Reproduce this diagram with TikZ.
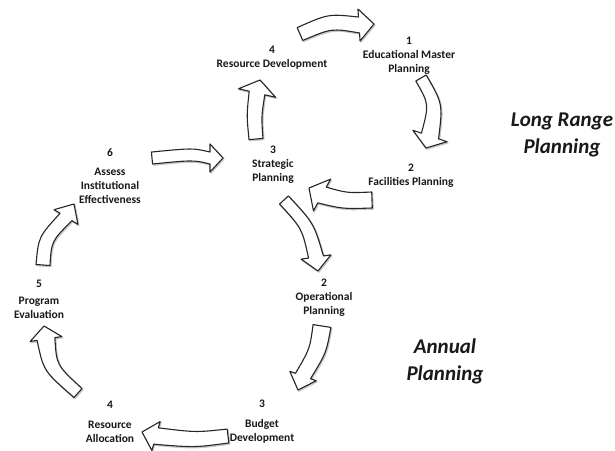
\documentclass[tikz,border=0pt]{standalone}
\usepackage{fontspec}
\setmainfont{Carlito}
\usetikzlibrary{calc}
\tikzset{
 lbl/.style={align=center, font=\bfseries\fontsize{11.5}{14}\selectfont, inner sep=0pt, text=black!90},
 big/.style={align=center, font=\bfseries\itshape\fontsize{21}{27}\selectfont, inner sep=0pt, text=black!90},
 barrowstyle/.style={draw=black!85, fill=white, line width=1.1pt, line join=round},
 barrowshadow/.style={draw=black!22, line width=1.6pt, line join=round, transform canvas={xshift=0.8pt,yshift=-1pt}},
}
% #1 name, #2 tail, #3 control, #4 head base, #5 tip, #6 tail half width, #7 shaft end half width, #8 head half width
\newcommand\barrow[8]{%
  \coordinate (#1T) at #2; \coordinate (#1C) at #3; \coordinate (#1H) at #4; \coordinate (#1P) at #5;
  \coordinate (#1TL) at ($(#1T)!#6pt!90:(#1C)$);
  \coordinate (#1TR) at ($(#1T)!#6pt!-90:(#1C)$);
  \coordinate (#1HL) at ($(#1H)!#7pt!90:(#1P)$);
  \coordinate (#1HR) at ($(#1H)!#7pt!-90:(#1P)$);
  \coordinate (#1WL) at ($(#1H)!#8pt!90:(#1P)$);
  \coordinate (#1WR) at ($(#1H)!#8pt!-90:(#1P)$);
  \coordinate (#1CL) at ($(#1C)+0.5*(#1TL)-0.5*(#1T)+0.5*(#1HL)-0.5*(#1H)$);
  \coordinate (#1CR) at ($(#1C)+0.5*(#1TR)-0.5*(#1T)+0.5*(#1HR)-0.5*(#1H)$);
  \draw[barrowshadow] (#1TL) .. controls (#1CL) .. (#1HL) -- (#1WL) -- (#1P) -- (#1WR) -- (#1HR) .. controls (#1CR) .. (#1TR) -- cycle;
  \draw[barrowstyle] (#1TL) .. controls (#1CL) .. (#1HL) -- (#1WL) -- (#1P) -- (#1WR) -- (#1HR) .. controls (#1CR) .. (#1TR) -- cycle;
}
\begin{document}
\begin{tikzpicture}[x=1pt,y=-1pt]
\useasboundingbox[fill=white] (0,0) rectangle (615,450);

% labels
\node[lbl] (rd)  at (272,57.5) {4\\Resource Development};
\node[lbl] (emp) at (409,56)   {1\\Educational Master\\Planning};
\node[lbl] (fp)  at (411,176)  {2\\Facilities Planning};
\node[lbl] (sp)  at (273,164.5){3\\Strategic\\Planning};
\node[lbl] (aie) at (110,176)  {6\\[5pt]Assess\\Institutional\\Effectiveness};
\node[lbl] (pe)  at (39,299.5) {5\\[3pt]Program\\Evaluation};
\node[lbl] (op)  at (324,297.5){2\\Operational\\Planning};
\node[lbl] (bd)  at (262,421.5){3\\[6pt]Budget\\Development};
\node[lbl] (ra)  at (110,421.5){4\\[6pt]Resource\\Allocation};
\node[big] (lrp) at (562,135)  {Long Range\\Planning};
\node[big] (ap)  at (445,361)  {Annual\\Planning};

% block arrows
\barrow{a1}{(300,34)}{(330,21)}{(359,25)}{(374,24)}{7}{8}{16}
\barrow{a2}{(421,78)}{(436,104)}{(430,136)}{(426,148)}{6}{9}{18}
\barrow{a3}{(372,200)}{(345,201)}{(322,195)}{(309,188)}{8}{9}{18}
\barrow{a4}{(284,200)}{(308,226)}{(316,257)}{(318,271)}{6}{7.5}{15}
\barrow{a5}{(322,326)}{(318,351)}{(303,376)}{(298,390)}{9}{8}{14}
\barrow{a6}{(228,436)}{(195,440)}{(156,436)}{(142,432)}{7}{8.5}{15}
\barrow{a7}{(78,393)}{(50,368)}{(46,339)}{(44,326)}{6}{9}{16}
\barrow{a8}{(43,265)}{(45,239)}{(66,217)}{(74,204)}{7}{7}{14}
\barrow{a9}{(152,158)}{(193,154)}{(210,158)}{(223,158)}{6}{6}{14}
\barrow{a10}{(256,139)}{(254,116)}{(257,93)}{(260,80)}{7}{8}{19}
\end{tikzpicture}
\end{document}
